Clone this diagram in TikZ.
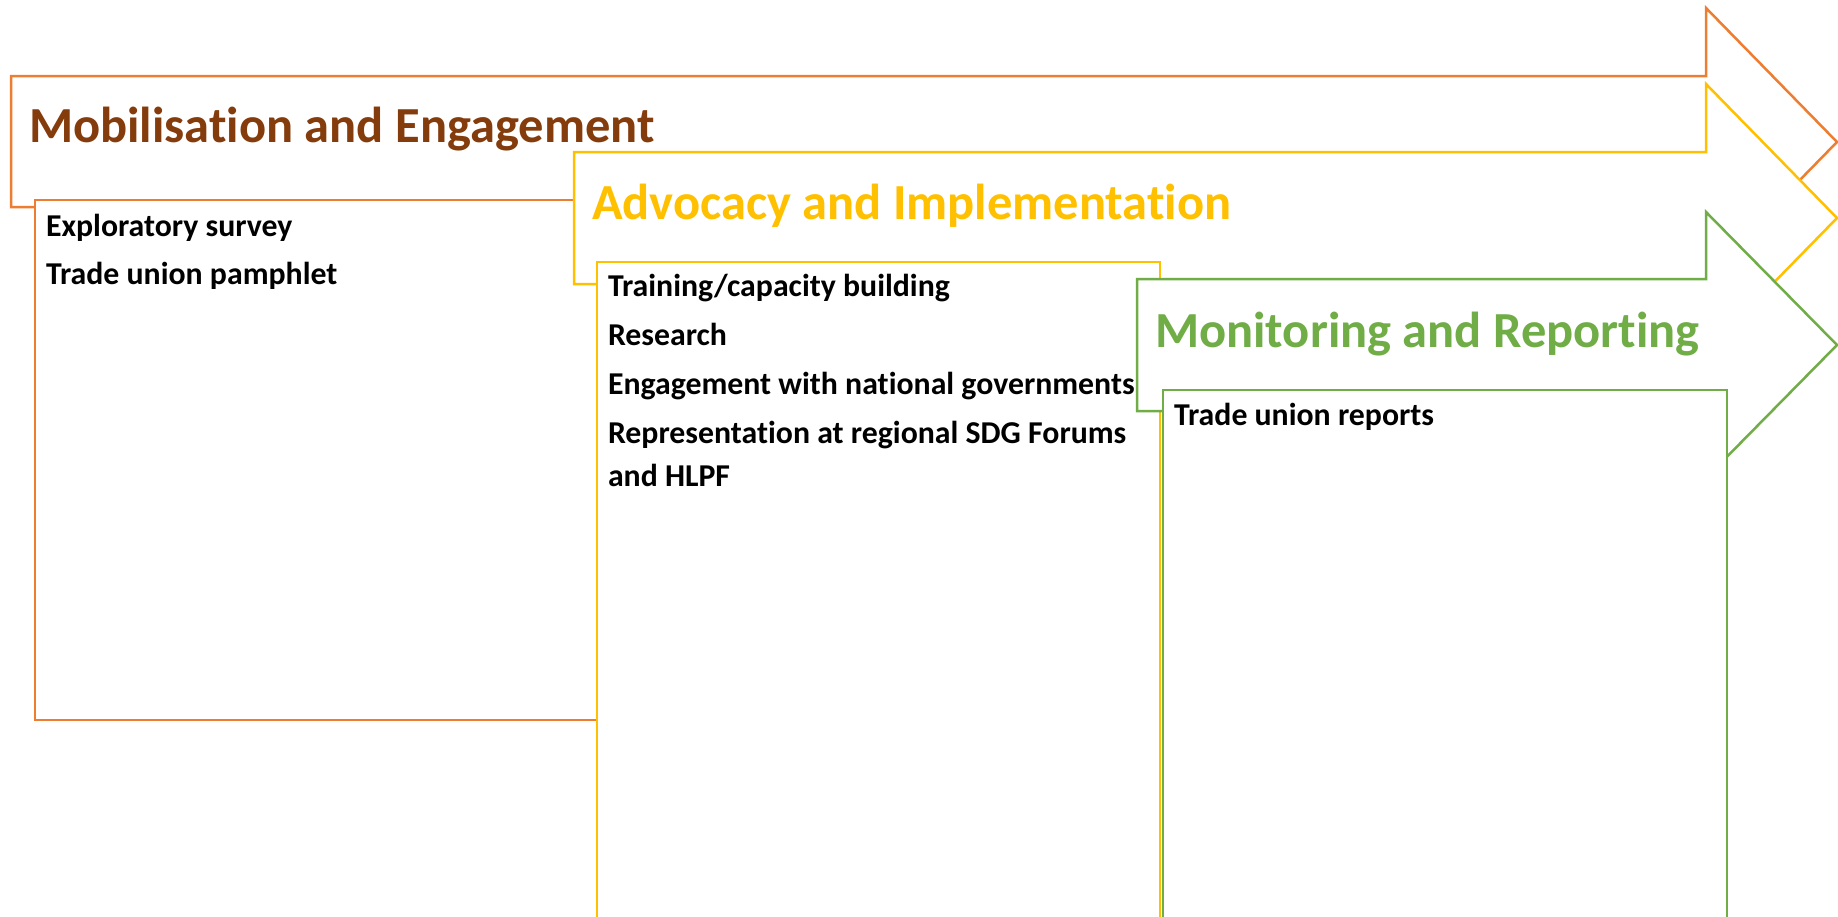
\documentclass[tikz,border=0pt]{standalone}
\usepackage{fontspec}
\setmainfont{Carlito}[Ligatures=NoCommon]
\definecolor{mobline}{HTML}{ED7D31}
\definecolor{mobtext}{HTML}{843C0C}
\definecolor{advline}{HTML}{FFC000}
\definecolor{monline}{HTML}{70AD47}
\begin{document}
\begin{tikzpicture}[x=1pt,y=-1pt,inner sep=0pt,outer sep=0pt,line width=2.5pt,line join=miter,
phasearrow/.style={fill=white},
phasebox/.style={fill=white},
phasetitle/.style={anchor=base west,font=\fontsize{50.5}{60}\selectfont\bfseries},
itemtext/.style={anchor=base west,font=\fontsize{31.8}{42.5}\selectfont\bfseries,align=left}]
\useasboundingbox (0,0) rectangle (1838,916);
\clip (0,0) rectangle (1838,916);
% mobilisation
\draw[phasearrow,draw=mobline] (11,76) -- (1706,76) -- (1706,8) -- (1837,142) -- (1706,276) -- (1706,207) -- (11,207) -- cycle;
\draw[phasebox,draw=mobline] (35,200) rectangle (597,720);
\node[phasetitle,text=mobtext] (mobtitle) at (29,142) {Mobilisation and Engagement};
\node[itemtext] (survey) at (46,236) {Exploratory survey};
\node[itemtext] (pamphlet) at (46,284) {Trade union pamphlet};
% advocacy
\draw[phasearrow,draw=advline] (574,152) -- (1706,152) -- (1706,84) -- (1837,218) -- (1706,352) -- (1706,284) -- (574,284) -- cycle;
\draw[phasebox,draw=advline] (597,262) rectangle (1160,1000);
\node[phasetitle,text=advline] (advtitle) at (592,219) {Advocacy and Implementation};
\node[itemtext] (training) at (608,296) {Training/capacity building};
\node[itemtext] (research) at (608,345) {Research};
\node[itemtext] (government) at (608,394) {Engagement with national governments};
\node[itemtext] (forums) at (608,486) {Representation at regional SDG Forums\\and HLPF};
% monitoring
\draw[phasearrow,draw=monline] (1137,279) -- (1706,279) -- (1706,212) -- (1837,345) -- (1706,478) -- (1706,411) -- (1137,411) -- cycle;
\draw[phasebox,draw=monline] (1163,390) rectangle (1727,1000);
\node[phasetitle,text=monline] (montitle) at (1155,347) {Monitoring and Reporting};
\node[itemtext] (reports) at (1174,425) {Trade union reports};
\end{tikzpicture}
\end{document}
